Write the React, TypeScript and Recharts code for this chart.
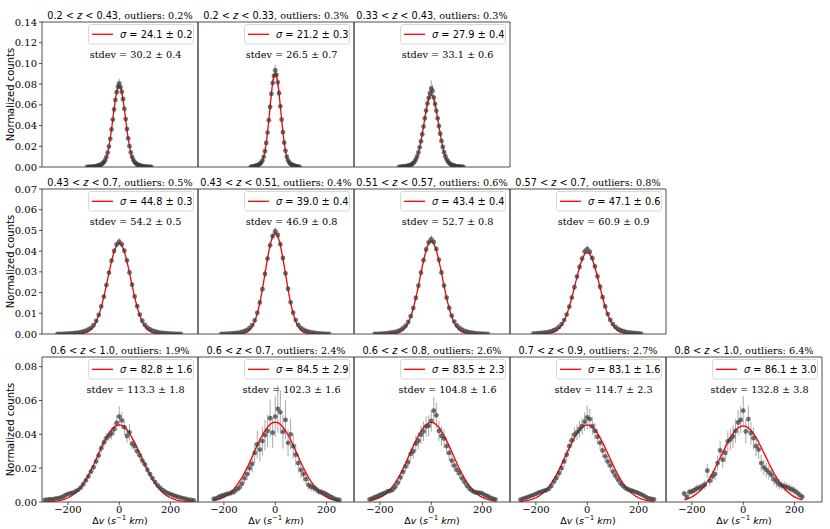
import React from 'react';
import { ComposedChart, Scatter, Line, XAxis, YAxis, ErrorBar, ReferenceArea } from 'recharts';

// ---------- panel meta ----------
const PANEL_ROW = [0, 0, 0, 1, 1, 1, 1, 2, 2, 2, 2, 2];
const PANEL_COL = [0, 1, 2, 0, 1, 2, 3, 0, 1, 2, 3, 4];
const Z_LO = ['0.2', '0.2', '0.33', '0.43', '0.43', '0.51', '0.57', '0.6', '0.6', '0.6', '0.7', '0.8'];
const Z_HI = ['0.43', '0.33', '0.43', '0.7', '0.51', '0.57', '0.7', '1.0', '0.7', '0.8', '0.9', '1.0'];
const OUTLIERS = ['0.2', '0.3', '0.3', '0.5', '0.4', '0.6', '0.8', '1.9', '2.4', '2.6', '2.7', '6.4'];
const SIGMA = ['24.1', '21.2', '27.9', '44.8', '39.0', '43.4', '47.1', '82.8', '84.5', '83.5', '83.1', '86.1'];
const SIGMA_ERR = ['0.2', '0.3', '0.4', '0.3', '0.4', '0.4', '0.6', '1.6', '2.9', '2.3', '1.6', '3.0'];
const STDEV = ['30.2', '26.5', '33.1', '54.2', '46.9', '52.7', '60.9', '113.3', '102.3', '104.8', '114.7', '132.8'];
const STDEV_ERR = ['0.4', '0.7', '0.6', '0.5', '0.8', '0.8', '0.9', '1.8', '1.6', '1.6', '2.3', '3.8'];

// bin centres: first bin and bin spacing per panel
const X_START = [-125, -95, -125, -240, -210, -220, -210, -290, -240, -240, -260, -230];
const X_STEP = [5, 5, 5, 10, 10, 10, 10, 10, 10, 10, 10, 10];

const Y_MAX = [0.14, 0.07, 0.0857];
const Y_TICKS = [
  [0, 0.02, 0.04, 0.06, 0.08, 0.1, 0.12, 0.14],
  [0, 0.01, 0.02, 0.03, 0.04, 0.05, 0.06, 0.07],
  [0, 0.02, 0.04, 0.06, 0.08],
];
const X_TICKS = [-200, 0, 200];
const X_DOMAIN: [number, number] = [-301, 307];

// ---------- row 1 ----------
const R1P1_Y = [.0001,.0001,.0002,.0002,.0003,.0004,.0006,.0008,.0011,.0015,.0020,.0026,.0034,.0047,.0066,.0096,.0138,.0197,.0272,.0362,.0458,.0556,.0648,.0722,.0776,
  .0808,
  .0772,.0726,.0655,.0562,.0463,.0366,.0277,.0201,.0141,.0098,.0068,.0048,.0035,.0026,.0020,.0015,.0011,.0008,.0006,.0004,.0003,.0002,.0002,.0001,.0001];
const R1P1_E = [.0001,.0001,.0002,.0002,.0002,.0002,.0003,.0003,.0004,.0005,.0005,.0006,.0007,.0008,.0010,.0012,.0014,.0017,.0020,.0023,.0026,.0028,.0031,.0032,.0034,
  .0045,
  .0034,.0032,.0031,.0028,.0026,.0023,.0020,.0017,.0014,.0012,.0010,.0008,.0007,.0006,.0005,.0005,.0004,.0003,.0003,.0002,.0002,.0002,.0002,.0001,.0001];
const R1P1_FIT = [0,0,0,0,0,0,0,.0001,.0002,.0003,.0006,.0012,.0021,.0036,.0058,.0092,.0138,.0199,.0275,.0364,.0461,.0560,.0651,.0725,.0773,
  .0790,
  .0773,.0725,.0651,.0560,.0461,.0364,.0275,.0199,.0138,.0092,.0058,.0036,.0021,.0012,.0006,.0003,.0002,.0001,0,0,0,0,0,0,0];

const R1P2_Y = [.0002,.0003,.0005,.0008,.0012,.0016,.0022,.0030,.0042,.0062,.0098,.0152,.0232,.0332,.0452,.0580,.0706,.0812,.0880,
  .0935,
  .0890,.0818,.0712,.0586,.0457,.0336,.0235,.0156,.0100,.0064,.0042,.0030,.0022,.0016,.0012,.0008,.0005,.0003,.0002];
const R1P2_E = [.0001,.0002,.0002,.0003,.0004,.0005,.0006,.0007,.0008,.0010,.0013,.0016,.0020,.0024,.0028,.0032,.0035,.0038,.0045,
  .0055,
  .0045,.0038,.0035,.0032,.0028,.0024,.0020,.0016,.0013,.0010,.0008,.0007,.0006,.0005,.0004,.0003,.0002,.0002,.0001];
const R1P2_FIT = [0,0,0,.0001,.0002,.0004,.0008,.0017,.0031,.0056,.0096,.0153,.0233,.0334,.0454,.0583,.0709,.0814,.0885,
  .0910,
  .0885,.0814,.0709,.0583,.0454,.0334,.0233,.0153,.0096,.0056,.0031,.0017,.0008,.0004,.0002,.0001,0,0,0];

const R1P3_Y = [.0001,.0002,.0003,.0004,.0005,.0007,.0009,.0012,.0016,.0021,.0028,.0037,.0052,.0073,.0102,.0141,.0190,.0248,.0316,.0390,.0470,.0545,.0612,.0668,.0712,
  .0758,
  .0735,.0670,.0608,.0542,.0470,.0395,.0321,.0252,.0193,.0143,.0104,.0074,.0053,.0038,.0028,.0021,.0016,.0012,.0009,.0007,.0005,.0004,.0003,.0002,.0001];
const R1P3_E = [.0001,.0001,.0002,.0002,.0002,.0003,.0003,.0004,.0004,.0005,.0006,.0007,.0008,.0010,.0012,.0015,.0018,.0021,.0025,.0028,.0032,.0036,.0040,.0043,.0060,
  .0080,
  .0060,.0043,.0040,.0036,.0032,.0028,.0025,.0021,.0018,.0015,.0012,.0010,.0008,.0007,.0006,.0005,.0004,.0004,.0003,.0003,.0002,.0002,.0002,.0001,.0001];
const R1P3_FIT = [0,0,0,0,.0001,.0001,.0002,.0004,.0007,.0012,.0019,.0030,.0046,.0069,.0100,.0140,.0191,.0250,.0319,.0393,.0469,.0541,.0606,.0656,.0689,
  .0700,
  .0689,.0656,.0606,.0541,.0469,.0393,.0319,.0250,.0191,.0140,.0100,.0069,.0046,.0030,.0019,.0012,.0007,.0004,.0002,.0001,.0001,0,0,0,0];

// ---------- row 2 ----------
const R2P1_Y = [.0001,.0001,.0001,.0002,.0002,.0003,.0004,.0005,.0007,.0009,.0012,.0016,.0022,.0030,.0043,.0063,.0092,.0133,.0180,.0236,.0296,.0354,.0401,.0432,
  .0446,
  .0433,.0402,.0355,.0297,.0238,.0181,.0134,.0094,.0064,.0044,.0031,.0022,.0016,.0012,.0009,.0007,.0005,.0004,.0003,.0002,.0002,.0001,.0001,.0001];
const R2P1_E = [.0001,.0001,.0001,.0001,.0001,.0001,.0002,.0002,.0002,.0002,.0003,.0003,.0003,.0004,.0005,.0006,.0007,.0008,.0010,.0011,.0012,.0013,.0014,.0014,
  .0016,
  .0014,.0014,.0013,.0012,.0011,.0010,.0008,.0007,.0006,.0005,.0004,.0003,.0003,.0003,.0002,.0002,.0002,.0002,.0001,.0001,.0001,.0001,.0001,.0001];
const R2P1_FIT = [0,0,0,0,0,0,0,0,.0001,.0002,.0003,.0007,.0012,.0022,.0036,.0058,.0089,.0130,.0179,.0236,.0295,.0352,.0398,.0429,
  .0440,
  .0429,.0398,.0352,.0295,.0236,.0179,.0130,.0089,.0058,.0036,.0022,.0012,.0007,.0003,.0002,.0001,0,0,0,0,0,0,0,0];

const R2P2_Y = [.0001,.0001,.0002,.0002,.0003,.0004,.0005,.0007,.0010,.0014,.0020,.0029,.0043,.0066,.0102,.0152,.0216,.0290,.0364,.0428,.0472,
  .0496,
  .0478,.0433,.0367,.0292,.0218,.0153,.0103,.0067,.0044,.0030,.0021,.0015,.0011,.0008,.0006,.0004,.0003,.0002,.0002,.0001,.0001];
const R2P2_E = [.0001,.0001,.0001,.0001,.0002,.0002,.0002,.0003,.0003,.0004,.0004,.0005,.0006,.0008,.0009,.0011,.0013,.0015,.0016,.0017,.0018,
  .0020,
  .0018,.0017,.0016,.0015,.0013,.0011,.0009,.0008,.0006,.0005,.0004,.0004,.0003,.0003,.0002,.0002,.0002,.0001,.0001,.0001,.0001];
const R2P2_FIT = [0,0,0,0,0,0,0,.0001,.0002,.0004,.0009,.0018,.0034,.0060,.0098,.0150,.0215,.0290,.0365,.0430,.0474,
  .0490,
  .0474,.0430,.0365,.0290,.0215,.0150,.0098,.0060,.0034,.0018,.0009,.0004,.0002,.0001,0,0,0,0,0,0,0];

const R2P3_Y = [.0001,.0001,.0002,.0002,.0003,.0004,.0006,.0008,.0010,.0014,.0020,.0028,.0040,.0058,.0086,.0125,.0174,.0233,.0296,.0356,.0408,.0442,
  .0458,
  .0444,.0410,.0358,.0297,.0234,.0175,.0126,.0088,.0060,.0041,.0029,.0021,.0015,.0011,.0008,.0006,.0004,.0003,.0002,.0002,.0001,.0001];
const R2P3_E = [.0001,.0001,.0001,.0001,.0002,.0002,.0002,.0003,.0003,.0004,.0004,.0005,.0006,.0007,.0009,.0010,.0012,.0014,.0015,.0016,.0017,.0018,
  .0019,
  .0018,.0017,.0016,.0015,.0014,.0012,.0010,.0009,.0007,.0006,.0005,.0004,.0004,.0003,.0003,.0002,.0002,.0002,.0001,.0001,.0001,.0001];
const R2P3_FIT = [0,0,0,0,0,0,0,.0001,.0002,.0005,.0010,.0018,.0032,.0052,.0082,.0123,.0173,.0232,.0294,.0354,.0405,.0438,
  .0450,
  .0438,.0405,.0354,.0294,.0232,.0173,.0123,.0082,.0052,.0032,.0018,.0010,.0005,.0002,.0001,0,0,0,0,0,0,0];

const R2P4_Y = [.0002,.0003,.0004,.0005,.0006,.0008,.0010,.0014,.0019,.0025,.0034,.0048,.0067,.0094,.0132,.0176,.0226,.0277,.0324,.0364,.0398,
  .0410,
  .0396,.0366,.0326,.0278,.0228,.0178,.0133,.0096,.0068,.0048,.0034,.0025,.0019,.0014,.0010,.0008,.0006,.0005,.0004,.0003,.0002];
const R2P4_E = [.0001,.0001,.0001,.0002,.0002,.0002,.0003,.0003,.0004,.0004,.0005,.0006,.0007,.0009,.0010,.0012,.0014,.0015,.0016,.0017,.0018,
  .0019,
  .0018,.0017,.0016,.0015,.0014,.0012,.0010,.0009,.0007,.0006,.0005,.0004,.0004,.0003,.0003,.0002,.0002,.0002,.0001,.0001,.0001];
const R2P4_FIT = [0,0,0,0,.0001,.0001,.0002,.0005,.0009,.0015,.0026,.0041,.0064,.0093,.0131,.0175,.0225,.0275,.0322,.0361,.0386,
  .0395,
  .0386,.0361,.0322,.0275,.0225,.0175,.0131,.0093,.0064,.0041,.0026,.0015,.0009,.0005,.0002,.0001,.0001,0,0,0,0];

// ---------- row 3 ----------
const R3P1_Y = [.0012,.0014,.0017,.0016,.0020,.0022,.0026,.0031,.0040,.0046,.0052,.0055,.0063,.0072,.0085,.0105,.0128,.0152,.0180,.0206,.0240,.0275,.0318,.0352,.0378,.0392,.0405,.0430,.0468,
  .0505,
  .0482,.0442,.0390,.0412,.0345,.0330,.0300,.0276,.0245,.0222,.0190,.0165,.0140,.0118,.0098,.0083,.0070,.0060,.0052,.0046,.0040,.0034,.0030,.0026,.0022,.0019,.0014,.0012,.0010];
const R3P1_E = [.0004,.0004,.0005,.0005,.0005,.0006,.0006,.0007,.0008,.0008,.0009,.0009,.0010,.0011,.0012,.0013,.0015,.0016,.0018,.0020,.0022,.0024,.0026,.0028,.0030,.0032,.0034,.0038,.0045,
  .0060,
  .0050,.0045,.0040,.0048,.0035,.0032,.0030,.0028,.0025,.0022,.0020,.0018,.0016,.0014,.0013,.0012,.0011,.0010,.0009,.0009,.0008,.0007,.0007,.0006,.0006,.0005,.0004,.0004,.0004];
const R3P1_FIT = [.0001,.0001,.0002,.0003,.0005,.0007,.0010,.0013,.0018,.0025,.0033,.0043,.0055,.0070,.0088,.0109,.0133,.0160,.0189,.0220,.0253,.0286,.0319,.0351,.0380,.0406,.0427,.0443,.0453,
  .0456,
  .0453,.0443,.0427,.0406,.0380,.0351,.0319,.0286,.0253,.0220,.0189,.0160,.0133,.0109,.0088,.0070,.0055,.0043,.0033,.0025,.0018,.0013,.0010,.0007,.0005,.0003,.0002,.0001,.0001];

const R3P2_Y = [.0018,.0022,.0030,.0036,.0040,.0046,.0050,.0055,.0062,.0075,.0085,.0108,.0140,.0165,.0200,.0225,.0290,.0340,.0310,.0360,.0395,.0420,.0495,.0410,
  .0505,
  .0550,.0530,.0415,.0485,.0350,.0400,.0330,.0280,.0230,.0190,.0165,.0135,.0100,.0090,.0085,.0075,.0062,.0058,.0052,.0045,.0036,.0028,.0020,.0015,.0012];
const R3P2_E = [.0010,.0011,.0013,.0014,.0015,.0016,.0017,.0018,.0020,.0022,.0024,.0028,.0032,.0036,.0045,.0050,.0060,.0080,.0070,.0085,.0090,.0095,.0110,.0090,
  .0120,
  .0140,.0130,.0100,.0115,.0080,.0090,.0075,.0065,.0055,.0048,.0040,.0035,.0030,.0028,.0026,.0024,.0022,.0020,.0018,.0017,.0015,.0013,.0012,.0010,.0009];
const R3P2_FIT = [.0008,.0012,.0016,.0022,.0029,.0038,.0049,.0062,.0079,.0098,.0120,.0145,.0172,.0202,.0234,.0268,.0302,.0335,.0367,.0396,.0422,.0443,.0459,.0469,
  .0472,
  .0469,.0459,.0443,.0422,.0396,.0367,.0335,.0302,.0268,.0234,.0202,.0172,.0145,.0120,.0098,.0079,.0062,.0049,.0038,.0029,.0022,.0016,.0012,.0008,.0006];

const R3P3_Y = [.0016,.0021,.0028,.0034,.0042,.0048,.0054,.0062,.0066,.0074,.0090,.0115,.0145,.0178,.0210,.0235,.0285,.0300,.0345,.0362,.0397,.0418,.0446,.0450,
  .0480,
  .0540,.0512,.0420,.0390,.0375,.0330,.0290,.0245,.0215,.0190,.0170,.0140,.0118,.0095,.0078,.0066,.0058,.0055,.0054,.0050,.0040,.0034,.0026,.0020,.0015];
const R3P3_E = [.0008,.0009,.0010,.0011,.0012,.0013,.0014,.0015,.0016,.0017,.0019,.0022,.0025,.0028,.0032,.0035,.0040,.0045,.0048,.0050,.0055,.0058,.0060,.0062,
  .0065,
  .0080,.0075,.0060,.0056,.0054,.0050,.0045,.0040,.0036,.0032,.0030,.0026,.0024,.0021,.0019,.0017,.0016,.0015,.0015,.0014,.0012,.0011,.0010,.0009,.0008];
const R3P3_FIT = [.0008,.0011,.0015,.0020,.0027,.0035,.0046,.0059,.0075,.0094,.0115,.0140,.0167,.0197,.0229,.0263,.0297,.0331,.0363,.0393,.0419,.0441,.0457,.0467,
  .0470,
  .0467,.0457,.0441,.0419,.0393,.0363,.0331,.0297,.0263,.0229,.0197,.0167,.0140,.0115,.0094,.0075,.0059,.0046,.0035,.0027,.0020,.0015,.0011,.0008,.0005];

const R3P4_Y = [.0014,.0020,.0024,.0030,.0036,.0041,.0048,.0055,.0060,.0065,.0070,.0078,.0095,.0120,.0142,.0170,.0200,.0240,.0280,.0330,.0365,.0398,.0412,.0430,.0448,.0475,
  .0500,
  .0490,.0448,.0420,.0385,.0350,.0305,.0270,.0240,.0215,.0180,.0155,.0132,.0110,.0094,.0082,.0074,.0068,.0064,.0058,.0052,.0045,.0038,.0028,.0022,.0018,.0016];
const R3P4_E = [.0006,.0007,.0008,.0009,.0010,.0010,.0011,.0012,.0013,.0013,.0014,.0015,.0017,.0019,.0021,.0024,.0027,.0030,.0033,.0036,.0040,.0042,.0045,.0048,.0050,.0055,
  .0070,
  .0060,.0052,.0048,.0045,.0042,.0038,.0035,.0032,.0030,.0027,.0024,.0021,.0019,.0017,.0016,.0015,.0014,.0013,.0012,.0011,.0010,.0009,.0008,.0007,.0007,.0006];
const R3P4_FIT = [.0003,.0005,.0007,.0010,.0014,.0019,.0025,.0033,.0044,.0056,.0071,.0089,.0110,.0134,.0161,.0190,.0221,.0254,.0287,.0320,.0351,.0380,.0406,.0427,.0443,.0453,
  .0456,
  .0453,.0443,.0427,.0406,.0380,.0351,.0320,.0287,.0254,.0221,.0190,.0161,.0134,.0110,.0089,.0071,.0056,.0044,.0033,.0025,.0019,.0014,.0010,.0007,.0005,.0003];

const R3P5_Y = [.0050,.0030,.0058,.0062,.0070,.0080,.0085,.0092,.0102,.0185,.0125,.0150,.0165,.0230,.0305,.0250,.0290,.0358,.0370,.0387,.0420,.0470,.0485,
  .0540,
  .0417,.0490,.0407,.0377,.0330,.0310,.0230,.0205,.0190,.0175,.0160,.0135,.0120,.0105,.0098,.0093,.0088,.0080,.0074,.0066,.0054,.0042,.0030];
const R3P5_E = [.0018,.0015,.0020,.0020,.0022,.0023,.0024,.0025,.0027,.0040,.0030,.0034,.0036,.0045,.0055,.0050,.0055,.0062,.0064,.0066,.0070,.0075,.0078,
  .0085,
  .0070,.0078,.0068,.0065,.0060,.0058,.0050,.0046,.0044,.0042,.0040,.0036,.0034,.0032,.0030,.0029,.0028,.0027,.0026,.0024,.0022,.0020,.0017];
const R3P5_FIT = [.0013,.0017,.0023,.0030,.0039,.0051,.0064,.0080,.0099,.0120,.0144,.0170,.0199,.0229,.0261,.0292,.0323,.0353,.0380,.0404,.0424,.0438,.0447,
  .0450,
  .0447,.0438,.0424,.0404,.0380,.0353,.0323,.0292,.0261,.0229,.0199,.0170,.0144,.0120,.0099,.0080,.0064,.0051,.0039,.0030,.0023,.0017,.0013];

const Y_DATA = [R1P1_Y, R1P2_Y, R1P3_Y, R2P1_Y, R2P2_Y, R2P3_Y, R2P4_Y, R3P1_Y, R3P2_Y, R3P3_Y, R3P4_Y, R3P5_Y];
const E_DATA = [R1P1_E, R1P2_E, R1P3_E, R2P1_E, R2P2_E, R2P3_E, R2P4_E, R3P1_E, R3P2_E, R3P3_E, R3P4_E, R3P5_E];
const FIT_DATA = [R1P1_FIT, R1P2_FIT, R1P3_FIT, R2P1_FIT, R2P2_FIT, R2P3_FIT, R2P4_FIT, R3P1_FIT, R3P2_FIT, R3P3_FIT, R3P4_FIT, R3P5_FIT];

// ---------- layout ----------
const COL_X = [42, 198, 354, 510, 666];
const ROW_Y = [22, 189, 357];
const PW = 156;
const PH = 145;
const PAD = 8;
const FRAME = '#3a3a3a';
const SANS = 'DejaVu Sans';
const SERIF = 'DejaVu Serif';
const LEG_W = 105;
const LEG_H = 19.5;

const fmtX = (v: number) => (v < 0 ? '\u2212' + Math.abs(v) : String(v));
const fmtY = (v: number) => v.toFixed(2);

const Dot = (p: any) => (
  <circle cx={p.cx} cy={p.cy} r={2.4} fill="#3c3c3c" fillOpacity={0.72} />
);

function Panel({ i }: { i: number }) {
  const r = PANEL_ROW[i];
  const c = PANEL_COL[i];
  const first = c === 0;
  const bottom = r === 2;
  const L = first ? 42 : 2;
  const B = bottom ? 22 : PAD;
  const width = L + PW + 2;
  const height = PAD + PH + B;
  const pts = Y_DATA[i].map((y, k) => ({ x: X_START[i] + k * X_STEP[i], y, e: E_DATA[i][k] ?? 0 }));
  const fit = FIT_DATA[i].map((y, k) => ({ x: X_START[i] + k * X_STEP[i], y }));
  return (
    <div style={{ position: 'absolute', left: COL_X[c] - L, top: ROW_Y[r] - PAD }}>
      <ComposedChart
        width={width}
        height={height}
        margin={{ top: PAD, right: 2, bottom: bottom ? 0 : PAD, left: first ? 0 : 2 }}
      >
        <XAxis
          type="number"
          dataKey="x"
          domain={X_DOMAIN}
          ticks={X_TICKS}
          allowDataOverflow
          hide={!bottom}
          height={B}
          axisLine={false}
          tickLine={{ stroke: FRAME, strokeWidth: 0.9 }}
          tickSize={3}
          tickMargin={1}
          tickFormatter={fmtX}
          tick={{ fontFamily: SERIF, fontSize: 10, fill: '#000' }}
          interval={0}
        />
        <YAxis
          type="number"
          dataKey="y"
          domain={[0, Y_MAX[r]]}
          ticks={Y_TICKS[r]}
          allowDataOverflow
          hide={!first}
          width={42}
          axisLine={false}
          tickLine={{ stroke: FRAME, strokeWidth: 0.9 }}
          tickSize={3}
          tickMargin={2}
          tickFormatter={fmtY}
          tick={{ fontFamily: SERIF, fontSize: 10, fill: '#000' }}
          interval={0}
        />
        <Scatter data={pts} isAnimationActive={false} shape={Dot}>
          <ErrorBar dataKey="e" direction="y" width={0} stroke="#8c8c8c" strokeOpacity={0.75} strokeWidth={1} isAnimationActive={false} />
        </Scatter>
        <Line
          data={fit}
          dataKey="y"
          type="linear"
          stroke="#ff0000"
          strokeWidth={1.3}
          dot={false}
          activeDot={false}
          isAnimationActive={false}
        />
        <ReferenceArea
          x1={X_DOMAIN[0]}
          x2={X_DOMAIN[1]}
          y1={0}
          y2={Y_MAX[r]}
          fill="none"
          fillOpacity={0}
          stroke={FRAME}
          strokeWidth={0.9}
        />
      </ComposedChart>
    </div>
  );
}

function Texts() {
  const items: React.ReactNode[] = [];
  for (let i = 0; i < PANEL_ROW.length; i++) {
    const r = PANEL_ROW[i];
    const c = PANEL_COL[i];
    const left = COL_X[c];
    const top = ROW_Y[r];
    const cx = left + PW / 2;
    const lx = left + PW - 4.5 - LEG_W;
    const ly = top + 2.5;
    items.push(
      <g key={'p' + i}>
        <text x={cx} y={top - 3.5} textAnchor="middle" fontSize={9.7} fill="#000" style={{ whiteSpace: 'pre' }}>
          <tspan fontFamily={SANS}>{`${Z_LO[i]} < `}</tspan>
          <tspan fontFamily={SANS} fontStyle="italic">z</tspan>
          <tspan fontFamily={SANS}>{` < ${Z_HI[i]}`}</tspan>
          <tspan fontFamily={SERIF}>{`, outliers: ${OUTLIERS[i]}%`}</tspan>
        </text>
        <rect x={lx} y={ly} width={LEG_W} height={LEG_H} rx={2.5} fill="#fff" fillOpacity={0.8} stroke="#d4d4d4" strokeWidth={0.9} />
        <line x1={lx + 3.5} x2={lx + 24.5} y1={ly + 9.8} y2={ly + 9.8} stroke="#ff0000" strokeWidth={1.3} />
        <text x={lx + 31.5} y={ly + 13.7} fontFamily={SANS} fontSize={9.8} fill="#000" style={{ whiteSpace: 'pre' }}>
          <tspan fontStyle="italic">σ</tspan>
          <tspan>{` = ${SIGMA[i]} ± ${SIGMA_ERR[i]}`}</tspan>
        </text>
        <text x={left + 0.6 * PW} y={top + 36} textAnchor="middle" fontFamily={SERIF} fontSize={9.7} fill="#000" style={{ whiteSpace: 'pre' }}>
          {`stdev = ${STDEV[i]} ± ${STDEV_ERR[i]}`}
        </text>
        {c === 0 && (
          <text
            transform={`translate(13.5, ${top + PH / 2}) rotate(-90)`}
            textAnchor="middle"
            fontFamily={SANS}
            fontSize={10}
            fill="#000"
          >
            Normalized counts
          </text>
        )}
        {r === 2 && (
          <text x={cx} y={524} textAnchor="middle" fontFamily={SANS} fontSize={9.5} fill="#000" style={{ whiteSpace: 'pre' }}>
            <tspan>Δ</tspan>
            <tspan fontStyle="italic">v</tspan>
            <tspan>{' ('}</tspan>
            <tspan fontStyle="italic">s</tspan>
            <tspan dy={-4} fontSize={7}>−1</tspan>
            <tspan dy={4} fontStyle="italic">{' km'}</tspan>
            <tspan>)</tspan>
          </text>
        )}
      </g>
    );
  }
  return (
    <svg width={830} height={529} style={{ position: 'absolute', left: 0, top: 0, pointerEvents: 'none' }}>
      {items}
    </svg>
  );
}

export default function App() {
  return (
    <div style={{ position: 'absolute', left: 0, top: 0, width: 830, height: 529, background: '#fff', overflow: 'hidden' }}>
      {PANEL_ROW.map((_, i) => (
        <Panel key={i} i={i} />
      ))}
      <Texts />
    </div>
  );
}
